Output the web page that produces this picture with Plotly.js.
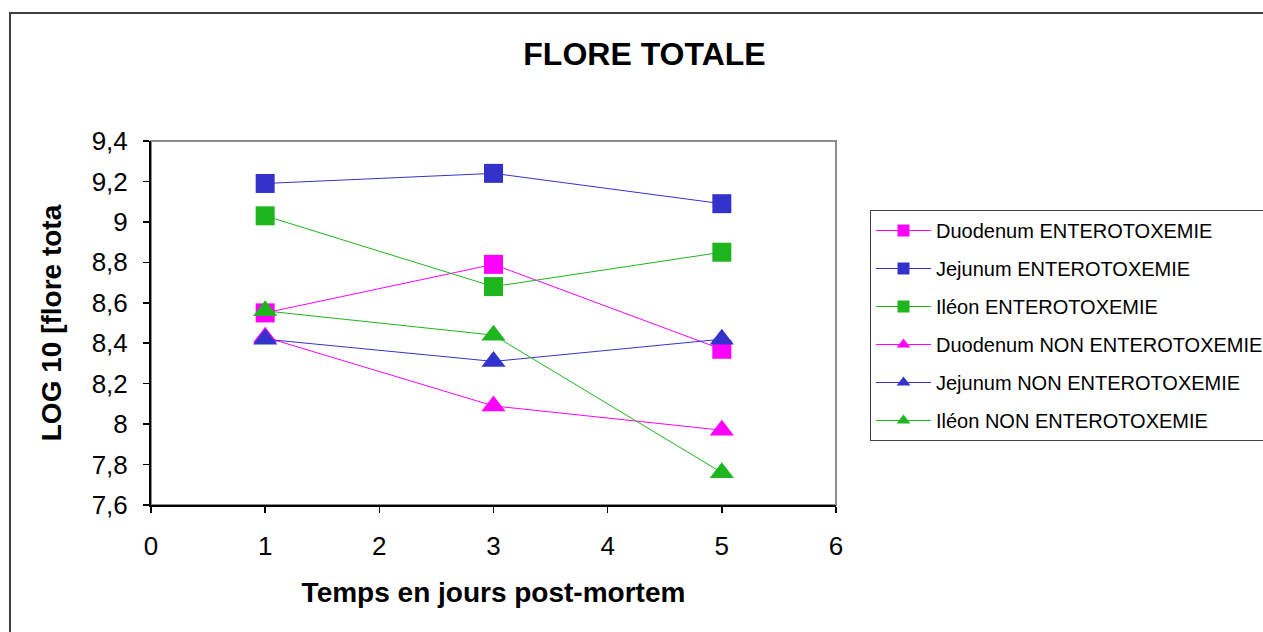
<!DOCTYPE html>
<html>
<head>
<meta charset="utf-8">
<script src="https://cdn.plot.ly/plotly-3.0.1.min.js"></script>
<style>
html,body{margin:0;padding:0;background:#fff;}
#chart{width:1263px;height:632px;}
#chart .legend .legendlines path{stroke-width:1px !important;}
</style>
</head>
<body>
<div id="chart"></div>
<script>
// Days post-mortem
const days = [1, 3, 5];

// Series names
const seriesNames = [
  "Duodenum ENTEROTOXEMIE",
  "Jejunum ENTEROTOXEMIE",
  "Iléon ENTEROTOXEMIE",
  "Duodenum NON ENTEROTOXEMIE",
  "Jejunum NON ENTEROTOXEMIE",
  "Iléon NON ENTEROTOXEMIE"
];

// LOG 10 total flora values
const duodenumEnt    = [8.55, 8.79, 8.37];
const jejunumEnt     = [9.19, 9.24, 9.09];
const ileonEnt       = [9.03, 8.68, 8.85];
const duodenumNonEnt = [8.43, 8.09, 7.97];
const jejunumNonEnt  = [8.42, 8.31, 8.42];
const ileonNonEnt    = [8.56, 8.44, 7.76];

const yTicks = [7.6, 7.8, 8, 8.2, 8.4, 8.6, 8.8, 9, 9.2, 9.4];
const xTicks = [0, 1, 2, 3, 4, 5, 6];

const seriesValues = [duodenumEnt, jejunumEnt, ileonEnt, duodenumNonEnt, jejunumNonEnt, ileonNonEnt];
const colors = ["#FF00FF", "#3333CC", "#1FB51F", "#FF00FF", "#3333CC", "#1FB51F"];
const symbols = ["square", "square", "square", "triangle-up", "triangle-up", "triangle-up"];
const sizes = [19, 19, 19, 21, 21, 21];

const traces = seriesValues.map((vals, i) => ({
  type: "scatter",
  mode: "lines+markers",
  x: days,
  y: vals,
  name: seriesNames[i],
  legendgroup: "g" + i,
  line: {color: colors[i], width: 1},
  marker: {color: colors[i], symbol: symbols[i], size: sizes[i], line: {width: 0}}
}));

const FONT = "Liberation Sans, Arial, sans-serif";

const layout = {
  width: 1263,
  height: 632,
  margin: {l: 151, r: 427, t: 141, b: 127, pad: 0, autoexpand: false},
  paper_bgcolor: "#ffffff",
  plot_bgcolor: "#ffffff",
  separators: ", ",
  font: {family: FONT, color: "#000000", size: 26},
  showlegend: true,
  title: {
    text: "<b>FLORE TOTALE</b>",
    font: {family: FONT, size: 32, color: "#000000"},
    x: 644.5 / 1263, xref: "container", xanchor: "center",
    y: 1 - 54 / 632, yref: "container", yanchor: "middle"
  },
  xaxis: {
    range: [0, 6],
    tickvals: xTicks,
    ticktext: xTicks.map(String),
    showgrid: false,
    zeroline: false,
    showline: true,
    linecolor: "#000000",
    linewidth: 2,
    ticks: "outside",
    ticklen: 6,
    tickwidth: 1.5,
    tickcolor: "#000000",
    ticklabelstandoff: 11,
    tickfont: {family: FONT, size: 26, color: "#000000"},
    title: {
      text: "<b>Temps en jours post-mortem</b>",
      font: {family: FONT, size: 28, color: "#000000"},
      standoff: 22
    },
    automargin: false,
    fixedrange: true
  },
  yaxis: {
    range: [7.6, 9.4],
    tickvals: yTicks,
    showgrid: false,
    zeroline: false,
    showline: true,
    linecolor: "#000000",
    linewidth: 2,
    ticks: "outside",
    ticklen: 6,
    tickwidth: 1.5,
    tickcolor: "#000000",
    ticklabelstandoff: 10,
    tickfont: {family: FONT, size: 26, color: "#000000"},
    title: {
      text: "<b>LOG 10 [flore tota</b>",
      font: {family: FONT, size: 28, color: "#000000"},
      standoff: 22
    },
    automargin: false,
    fixedrange: true
  },
  legend: {
    x: (870 - 151) / 685,
    y: (505 - 210) / 364,
    xanchor: "left",
    yanchor: "top",
    xref: "paper",
    yref: "paper",
    bgcolor: "#ffffff",
    bordercolor: "#404040",
    borderwidth: 1,
    font: {family: FONT, size: 20, color: "#000000"},
    itemsizing: "constant",
    itemwidth: 55,
    traceorder: "grouped",
    tracegroupgap: 9
  },
  shapes: [
    // plot area frame (top/right grey)
    {type: "rect", xref: "paper", yref: "paper", x0: 0, x1: 1, y0: 0, y1: 1,
     line: {color: "#8c8c8c", width: 2}, layer: "below"},
    // outer chart frame
    {type: "rect", xref: "paper", yref: "paper",
     x0: (10 - 151) / 685, x1: (1275 - 151) / 685,
     y0: (505 - 645) / 364, y1: (505 - 13) / 364,
     line: {color: "#404040", width: 2}, layer: "below"}
  ]
};

Plotly.newPlot("chart", traces, layout, {displayModeBar: false, staticPlot: true});
</script>
</body>
</html>
